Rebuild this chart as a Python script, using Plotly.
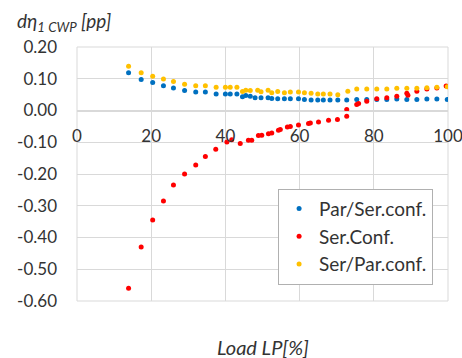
import plotly.graph_objects as go

# ---- data ----
par_ser_x = [13.9, 17.3, 20.4, 23.3, 26.0, 29.0, 32.0, 34.6, 37.5, 40.0, 41.3, 43.1, 44.6, 45.5,
             46.7, 48.0, 49.6, 51.5, 52.5, 54.1, 55.9, 57.5, 59.7, 61.3, 63.1, 64.9, 66.4, 68.2,
             70.3, 72.7, 75.4, 78.1, 80.8, 83.5, 86.2, 88.9, 91.6, 94.3, 97.0, 99.8]
par_ser_y = [0.119, 0.098, 0.088, 0.078, 0.071, 0.063, 0.058, 0.058, 0.052, 0.052, 0.052, 0.052,
             0.043, 0.047, 0.045, 0.040, 0.040, 0.040, 0.038, 0.037, 0.037, 0.037, 0.037, 0.035,
             0.033, 0.033, 0.033, 0.033, 0.033, 0.033, 0.035, 0.035, 0.035, 0.035, 0.036, 0.035,
             0.035, 0.036, 0.036, 0.035]

ser_x = [13.9, 17.3, 20.4, 23.3, 26.0, 29.0, 32.0, 34.6, 37.4, 40.4, 41.7, 44.0, 46.2, 47.1,
         48.9, 49.8, 51.6, 52.5, 54.3, 54.8, 56.7, 57.5, 59.7, 62.4, 62.9, 65.1, 67.8, 70.2,
         72.7, 72.7, 75.4, 75.9, 78.1, 80.8, 83.5, 86.2, 88.9, 89.2, 91.6, 94.3, 97.0, 99.5]
ser_y = [-0.560, -0.430, -0.345, -0.285, -0.235, -0.200, -0.172, -0.145, -0.122, -0.099, -0.092,
         -0.104, -0.094, -0.094, -0.079, -0.078, -0.073, -0.071, -0.062, -0.060, -0.052, -0.050,
         -0.046, -0.041, -0.039, -0.036, -0.031, -0.028, -0.018, 0.003, 0.019, 0.022, 0.029,
         0.037, 0.040, 0.045, 0.054, 0.048, 0.061, 0.068, 0.071, 0.077]

ser_par_x = [13.9, 17.3, 20.4, 23.3, 26.0, 29.0, 32.0, 34.6, 37.5, 40.0, 41.3, 43.1, 44.6, 45.5,
             46.7, 48.7, 49.6, 51.5, 52.5, 54.1, 55.9, 57.5, 59.7, 61.3, 63.1, 64.9, 66.4, 68.2,
             70.3, 73.0, 75.4, 78.1, 80.8, 83.5, 86.2, 88.9, 91.6, 94.3, 97.0, 99.8]
ser_par_y = [0.139, 0.119, 0.108, 0.099, 0.091, 0.083, 0.078, 0.078, 0.073, 0.073, 0.073, 0.073,
             0.060, 0.064, 0.063, 0.064, 0.059, 0.064, 0.056, 0.060, 0.056, 0.058, 0.058, 0.056,
             0.054, 0.052, 0.052, 0.052, 0.050, 0.061, 0.068, 0.068, 0.068, 0.068, 0.070, 0.070,
             0.070, 0.072, 0.073, 0.075]

names = ["Par/Ser.conf.", "Ser.Conf.", "Ser/Par.conf."]
x_ticks = [0, 20, 40, 60, 80, 100]
y_ticks = [0.2, 0.1, 0.0, -0.1, -0.2, -0.3, -0.4, -0.5, -0.6]
y_ticktext = ["0.20", "0.10", "0.00", "-0.10", "-0.20", "-0.30", "-0.40", "-0.50", "-0.60"]
y_title = "dη<sub>1 CWP</sub> [pp]"
x_title = "Load LP[%]"

# ---- figure ----
FONT = "Lato"
TXT = "#333333"
GRID = "#d9d9d9"
colors = ["#0070C0", "#FF0000", "#FFC000"]

fig = go.Figure()
for i, (xs, ys) in enumerate([(par_ser_x, par_ser_y), (ser_x, ser_y), (ser_par_x, ser_par_y)]):
    fig.add_trace(go.Scatter(x=xs, y=ys, mode="markers", name=names[i],
                             legendgroup=str(i),
                             marker=dict(color=colors[i], size=5, line=dict(width=0))))

fig.update_layout(
    width=462, height=358,
    margin=dict(l=77, r=14, t=47, b=57, autoexpand=False),
    paper_bgcolor="white", plot_bgcolor="white",
    font=dict(family=FONT, size=17, color=TXT),
    showlegend=True,
    legend=dict(x=0.542, y=0.442, xanchor="left", yanchor="top",
                bgcolor="white", bordercolor="#b0b0b0", borderwidth=1,
                font=dict(family=FONT, size=19, color=TXT),
                tracegroupgap=0, itemwidth=30),
    xaxis=dict(range=[0, 100], tickvals=x_ticks, showgrid=True, gridcolor=GRID, gridwidth=1,
               zeroline=False, showline=True, linecolor=GRID, linewidth=1,
               anchor="free", position=0.75, ticks="", ticklabelstandoff=10,
               ticklabeloverflow="allow", automargin=False,
               tickfont=dict(family=FONT, size=17, color=TXT)),
    yaxis=dict(range=[-0.6, 0.2], tickvals=y_ticks, ticktext=y_ticktext, showgrid=True,
               gridcolor=GRID, gridwidth=1, zeroline=False, showline=False,
               ticks="", ticklabelstandoff=19, domain=[0, 1], automargin=False,
               tickfont=dict(family=FONT, size=17, color=TXT)),
    shapes=[dict(type="rect", xref="paper", yref="paper", x0=0, y0=0, x1=1, y1=1,
                 line=dict(color=GRID, width=1), fillcolor="rgba(0,0,0,0)", layer="below")],
    annotations=[
        dict(text="<i>" + y_title + "</i>", xref="paper", yref="paper", x=-0.168, y=1.1,
             xanchor="left", yanchor="middle", showarrow=False,
             font=dict(family=FONT, size=19, color=TXT)),
        dict(text="<i>" + x_title + "</i>", xref="paper", yref="paper", x=0.5, y=-0.181,
             xanchor="center", yanchor="middle", showarrow=False,
             font=dict(family=FONT, size=20, color=TXT)),
    ],
)

fig.write_html("out.html")
